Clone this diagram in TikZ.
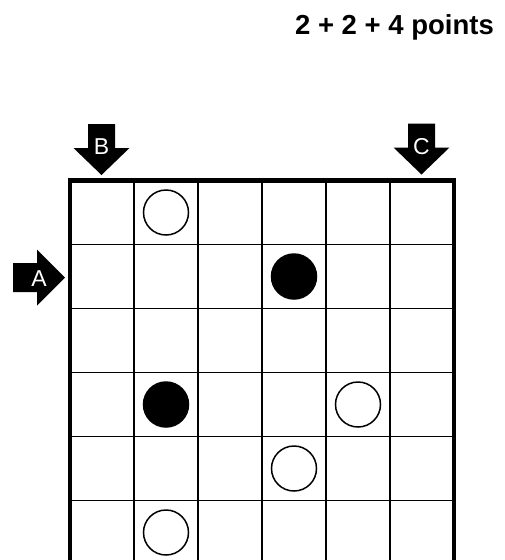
\documentclass[tikz,border=0pt]{standalone}
\usepackage{fontspec}
\setmainfont{Liberation Sans}
\begin{document}
\begin{tikzpicture}[x=1pt,y=-1pt,
  thin grid/.style={line width=1.5pt,black},
  border/.style={line width=4.5pt,black,line cap=rect},
  pearl/.style={circle,draw,line width=1.5pt,minimum size=45pt,inner sep=0pt},
  white pearl/.style={pearl,fill=white},
  black pearl/.style={pearl,fill=black},
  arrowlabel/.style={text=white,font=\fontsize{23}{26}\selectfont,inner sep=0pt}]
\useasboundingbox (0,0) rectangle (505,560);
\clip (0,0) rectangle (505,560);
\fill[white] (0,0) rectangle (505,560);
% title
\node[anchor=base east,inner sep=0pt,font=\fontsize{27.5}{32}\selectfont\bfseries] (title) at (494,34) {2 + 2 + 4 points};
% grid
\foreach \i in {1,...,5} {
  \draw[thin grid] ({70+64*\i},180) -- ({70+64*\i},570);
}
\foreach \j in {1,...,6} {
  \draw[thin grid] (70,{180.5+64*\j}) -- (454,{180.5+64*\j});
}
\draw[border] (70,570) -- (70,180.5) -- (454,180.5) -- (454,570);
% pearls
\node[white pearl] (p1) at (166,212.5) {};
\node[black pearl] (p2) at (294,276.5) {};
\node[black pearl] (p3) at (166,404.5) {};
\node[white pearl] (p4) at (358,404.5) {};
\node[white pearl] (p5) at (294,468.5) {};
\node[white pearl] (p6) at (166,532.5) {};
% arrows
\coordinate (tipB) at (101.5,175);
\coordinate (tipC) at (421.5,174.5);
\coordinate (tipA) at (65,277.5);
\fill[black] (tipB) ++(-13.5,-51) -- ++(27,0) -- ++(0,24) -- ++(14.5,0) -- (tipB) -- ++(-28,-27) -- ++(14.5,0) -- cycle;
\fill[black] (tipC) ++(-13.5,-51) -- ++(27,0) -- ++(0,24) -- ++(14.5,0) -- (tipC) -- ++(-28,-27) -- ++(14.5,0) -- cycle;
\fill[black] (tipA) ++(-52,-14.5) -- ++(0,29) -- ++(24,0) -- ++(0,13.5) -- (tipA) -- ++(-28,-28) -- ++(0,13.5) -- cycle;
\node[arrowlabel] (lB) at (101.5,147) {B};
\node[arrowlabel] (lC) at (421.5,147) {C};
\node[arrowlabel] (lA) at (39,278.5) {A};
\end{tikzpicture}
\end{document}
